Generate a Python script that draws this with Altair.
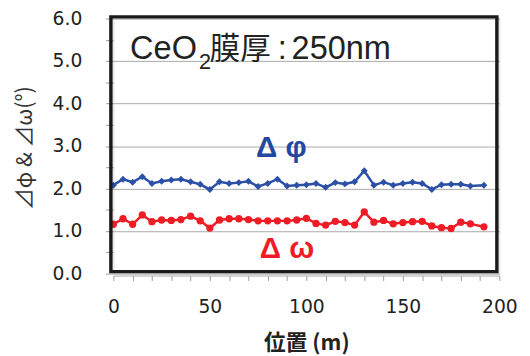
import altair as alt
import pandas as pd

position = [0, 5, 10, 15, 20, 25, 30, 35, 40, 45, 50, 55, 60, 65, 70, 75, 80, 85, 90, 95,
            100, 105, 110, 115, 120, 125, 130, 135, 140, 145, 150, 155, 160, 165, 170, 175,
            180, 185, 192]
delta_phi = [2.08, 2.22, 2.15, 2.28, 2.12, 2.17, 2.20, 2.22, 2.16, 2.10, 1.98, 2.16, 2.12,
             2.14, 2.17, 2.05, 2.12, 2.22, 2.06, 2.08, 2.09, 2.12, 2.03, 2.14, 2.11, 2.16,
             2.42, 2.08, 2.15, 2.08, 2.12, 2.15, 2.12, 1.98, 2.09, 2.10, 2.10, 2.06, 2.08]
delta_omega = [1.16, 1.29, 1.16, 1.38, 1.22, 1.26, 1.25, 1.27, 1.35, 1.24, 1.07, 1.26, 1.29,
               1.29, 1.27, 1.24, 1.24, 1.24, 1.24, 1.26, 1.30, 1.18, 1.14, 1.23, 1.20, 1.14,
               1.45, 1.21, 1.25, 1.17, 1.20, 1.22, 1.23, 1.12, 1.08, 1.06, 1.21, 1.17, 1.10]

y_ticks = [0, 0.5, 1, 1.5, 2, 2.5, 3, 3.5, 4, 4.5, 5, 5.5, 6]
x_ticks = [0, 10, 20, 30, 40, 50, 60, 70, 80, 90, 100, 110, 120, 130, 140, 150, 160, 170, 180, 190, 200]

labels_text = ["Δ φ", "Δ ω"]
labels_x = [87, 90]
labels_y = [2.94, 0.58]
labels_color = ["#2447A0", "#EE1C25"]

title_parts = ["CeO", "2", "膜厚", ":", "250nm"]

df = pd.DataFrame({"pos": position, "phi": delta_phi, "omega": delta_omega})
lab = pd.DataFrame({"t": labels_text, "x": labels_x, "y": labels_y, "c": labels_color})

BLUE = "#2B50A6"
RED = "#EE1C25"

xscale = alt.Scale(domain=[0, 200], nice=False)
yscale = alt.Scale(domain=[0, 6], nice=False)

xaxis = alt.Axis(
    values=x_ticks, offset=2, tickSize=5, tickColor="#999", domainColor="#aaa",
    labelExpr="datum.value % 50 === 0 ? datum.label : ''", labelOverlap=False, labelFlush=False,
    labelFont="DejaVu Sans", labelFontSize=19, labelColor="#222", labelPadding=18,
    grid=False, title="位置 (m)", titleFont="Noto Sans CJK JP", titleFontSize=22,
    titleFontWeight="bold", titleColor="#222", titleY=68, titleBaseline="middle",
)
yaxis = alt.Axis(
    values=y_ticks, domain=False, tickSize=8, tickColor="#999",
    labelExpr="datum.value % 1 === 0 ? format(datum.value, '.1f') : ''", labelOverlap=False,
    labelFlush=False,
    labelFont="DejaVu Sans", labelFontSize=19, labelColor="#222", labelPadding=24,
    grid=True, gridColor="#aaa", gridWidth=1,
    gridOpacity={"condition": {"test": "datum.value % 1 !== 0", "value": 0}, "value": 1},
    title="⊿φ & ⊿ω(°)", titleFont="Noto Sans CJK JP", titleFontSize=22,
    titleFontWeight="normal", titleColor="#333", titleX=-90, titleY=131,
    titleAlign="center", titleBaseline="middle", titleAngle=270,
)

base = alt.Chart(df)

phi_line = base.mark_line(color=BLUE, strokeWidth=2.5).encode(
    x=alt.X("pos:Q", scale=xscale, axis=xaxis),
    y=alt.Y("phi:Q", scale=yscale, axis=yaxis),
)
phi_pts = base.mark_point(shape="diamond", filled=True, color=BLUE, size=50, opacity=1).encode(
    x=alt.X("pos:Q", scale=xscale, axis=xaxis), y=alt.Y("phi:Q", scale=yscale, axis=yaxis))
om_line = base.mark_line(color=RED, strokeWidth=2.5).encode(
    x=alt.X("pos:Q", scale=xscale, axis=xaxis), y=alt.Y("omega:Q", scale=yscale, axis=yaxis))
om_pts = base.mark_circle(color=RED, size=55, opacity=1).encode(
    x=alt.X("pos:Q", scale=xscale, axis=xaxis), y=alt.Y("omega:Q", scale=yscale, axis=yaxis))

labels = alt.Chart(lab).mark_text(
    font="Liberation Sans", fontSize=30, fontWeight="bold", align="center", baseline="middle"
).encode(
    x=alt.X("x:Q", scale=xscale, axis=xaxis), y=alt.Y("y:Q", scale=yscale, axis=yaxis),
    text="t:N", color=alt.Color("c:N", scale=None),
)

frame = alt.Chart(pd.DataFrame({"a": [0]})).mark_rect(
    fill=None, stroke="#1a1a1a", strokeWidth=3.5
).encode(x=alt.value(-2.5), x2=alt.value(389.5), y=alt.value(-1.7), y2=alt.value(257))

one = pd.DataFrame({"a": [0]})
def title_piece(txt, x, y, size, font):
    return alt.Chart(one).mark_text(
        text=txt, font=font, fontSize=size, align="left", baseline="alphabetic", color="#222"
    ).encode(x=alt.value(x), y=alt.value(y))

t1 = title_piece(title_parts[0], 17, 41, 33, "Liberation Sans")
t2 = title_piece(title_parts[1], 87, 51, 22, "Liberation Sans")
t3 = title_piece(title_parts[2], 98, 41, 31, "Noto Sans CJK JP")
t4 = title_piece(title_parts[3], 167, 41, 33, "Liberation Sans")
t5 = title_piece(title_parts[4], 181, 41, 33, "Liberation Sans")

chart = alt.layer(phi_line, phi_pts, om_line, om_pts, labels, frame, t1, t2, t3, t4, t5).properties(
    width=392, height=259,
    autosize=alt.AutoSizeParams(type="none"),
    padding={"left": 107, "top": 8, "right": 23, "bottom": 81},
).configure_view(stroke=None).configure(background="white").configure_axis(
    labelOverlap=False, labelBound=False, labelFlush=False
)

chart.save("out.html", embed_options={"renderer": "svg", "actions": False})
